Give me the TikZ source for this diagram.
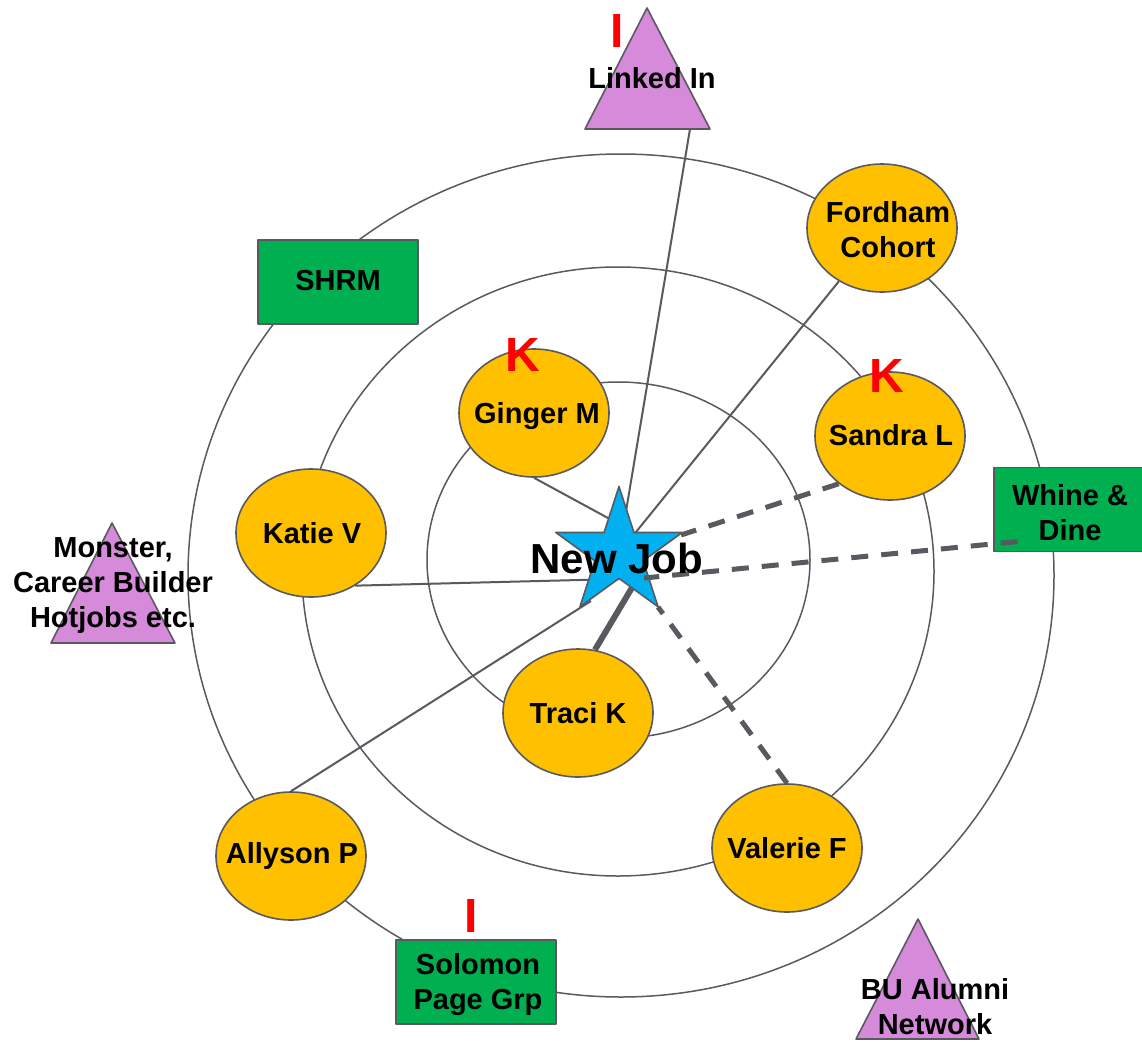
\documentclass[tikz,border=0pt]{standalone}
\usepackage{fontspec}
\setmainfont{Liberation Sans}
\usetikzlibrary{shapes.geometric, backgrounds}

\definecolor{jobblue}{RGB}{0,176,240}
\definecolor{contactorange}{RGB}{255,192,0}
\definecolor{groupgreen}{RGB}{0,176,80}
\definecolor{sitepurple}{RGB}{213,139,218}
\definecolor{linegray}{RGB}{89,89,96}

\begin{document}
\begin{tikzpicture}[x=1pt, y=-1pt, line join=round]
\tikzstyle{person}=[draw=linegray, line width=1.6pt, fill=contactorange, ellipse, minimum width=150pt, minimum height=128pt, inner sep=0pt]
\tikzstyle{group}=[draw=linegray, line width=1.6pt, fill=groupgreen, rectangle, minimum width=160pt, minimum height=84pt, inner sep=0pt]
\tikzstyle{site}=[draw=linegray, line width=1.6pt, fill=sitepurple]
\tikzstyle{lbl}=[font=\fontsize{29}{35}\selectfont\bfseries, align=center, inner sep=0pt]
\tikzstyle{redmark}=[font=\fontsize{48}{48}\selectfont\bfseries, text=red, inner sep=0pt]
\tikzstyle{ring}=[draw=linegray, line width=1.5pt]
\tikzstyle{link}=[draw=linegray, line width=2pt]
\tikzstyle{weak}=[draw=linegray, line width=5pt, dash pattern=on 17pt off 13pt]
\useasboundingbox (0,0) rectangle (1142,1041);

% job sites
\path[site] (585,129) -- (647,8) -- (710,129) -- cycle;
\path[site] (51,643) -- (112,523) -- (175,643) -- cycle;
\path[site] (856,1039) -- (918,919) -- (979,1039) -- cycle;
\coordinate (linkedfoot) at (690,129);

% groups
\node[group] (shrm) at (338,282) {};
\node[group, minimum width=149pt] (whine) at (1068.5,509.5) {};
\node[group] (solomon) at (476,982) {};

% people
\node[person] (fordham) at (882,228) {};
\node[person] (ginger) at (534,413) {};
\node[person] (sandra) at (890,436) {};
\node[person] (katie) at (311,533) {};
\node[person] (traci) at (578,713) {};
\node[person] (valerie) at (787,848) {};
\node[person] (allyson) at (291,856) {};

\node[star, star points=5, star point ratio=2.618, minimum size=133pt, inner sep=0pt, draw=linegray, line width=1.6pt, fill=jobblue] (newjob) at (619,553) {};

\begin{scope}[on background layer]
\draw[ring] (621,575.5) ellipse [x radius=433pt, y radius=421.5pt];
\draw[ring] (618,571.5) ellipse [x radius=316pt, y radius=304.5pt];
\draw[ring] (618.5,560) ellipse [x radius=191.5pt, y radius=178pt];
\draw[link] (linkedfoot) -- (newjob.center);
\draw[link] (fordham) -- (newjob.center);
\draw[link] (ginger.south) -- ([yshift=29pt]newjob.center);
\draw[link] (katie.-50) -- ([yshift=-26pt]newjob.center);
\draw[link] (allyson.north) -- ([shift={(-28pt,-48pt)}]newjob.center);
\draw[link, line width=6pt] (traci.75) -- ([shift={(14pt,-33pt)}]newjob.center);
\draw[weak] (sandra.-137) -- ([shift={(62pt,18pt)}]newjob.center);
\draw[weak] (valerie.north) -- ([shift={(39pt,-54pt)}]newjob.center);
\end{scope}
\draw[weak] ([shift={(-51pt,-32pt)}]whine.center) -- ([shift={(25pt,-25pt)}]newjob.center);

% labels
\node[lbl] (linkedtxt) at (652,78) {Linked In};
\node[lbl] (monstertxt) at (113,586) {Monster,\\Career Builder\\Hotjobs etc.};
\node[lbl] (butxt) at (935,1007) {BU Alumni\\Network};
\node[lbl] (shrmtxt) at (338,281) {SHRM};
\node[lbl] (whinetxt) at (1070,513) {Whine \&\\Dine};
\node[lbl] (solomontxt) at (478,985) {Solomon\\Page Grp};
\node[lbl] (fordhamtxt) at (888,230) {Fordham\\Cohort};
\node[lbl] (gingertxt) at (537,416) {Ginger M};
\node[lbl] (sandratxt) at (891,435) {Sandra L};
\node[lbl] (katietxt) at (312,533) {Katie V};
\node[lbl] (tracitxt) at (578,713) {Traci K};
\node[lbl] (valerietxt) at (787,848) {Valerie F};
\node[lbl] (allysontxt) at (292,856) {Allyson P};
\node[lbl, font=\fontsize{42}{42}\selectfont\bfseries] (newjobtxt) at (617,558) {New Job};

\node[redmark] (kginger) at (523,355) {K};
\node[redmark] (ksandra) at (887,376) {K};
\node[redmark] (ilinked) at (617,31) {I};
\node[redmark] (isolomon) at (471,916) {I};
\end{tikzpicture}
\end{document}
